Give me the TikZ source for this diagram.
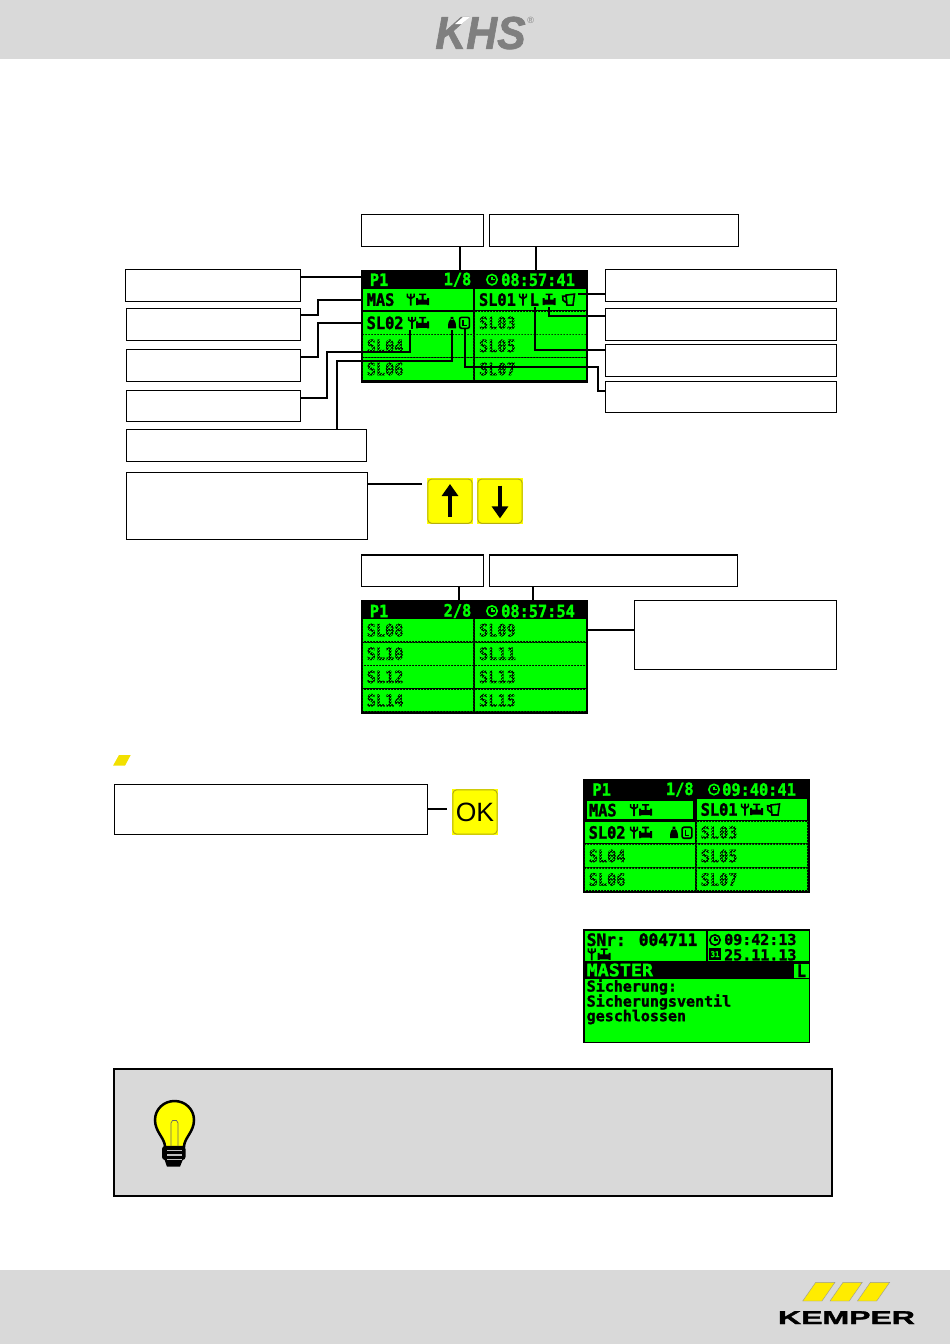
\documentclass[tikz,border=0pt]{standalone}
\usepackage{fontspec}
\usepackage{tikz}
\usetikzlibrary{arrows.meta, patterns}
\newfontfamily\lcdfont{DejaVu Sans Mono}[FakeStretch=0.9, BoldFeatures={FakeBold=1.6, FakeStretch=0.9}]
\newfontfamily\lcdsmall{DejaVu Sans Mono}[BoldFeatures={FakeBold=1.6}]
\newfontfamily\logofont{Liberation Sans}[BoldFeatures={FakeBold=1.5}, BoldItalicFeatures={FakeBold=1.5}]
\definecolor{lcdgreen}{HTML}{00FF00}
\definecolor{bandgray}{HTML}{D9D9D9}
\definecolor{logogray}{HTML}{7F7F7F}
\definecolor{btnyellow}{HTML}{FFFF00}
\definecolor{btnedge}{HTML}{B5AE10}
\definecolor{kmpyellow}{HTML}{FFEC00}
\pgfdeclarepatternformonly{lcdmask}{\pgfqpoint{0pt}{0pt}}{\pgfqpoint{3pt}{3pt}}{\pgfqpoint{3pt}{3pt}}{
  \pgfpathrectangle{\pgfpointorigin}{\pgfqpoint{1.5pt}{1.5pt}}
  \pgfpathrectangle{\pgfqpoint{1.5pt}{1.5pt}}{\pgfqpoint{1.5pt}{1.5pt}}
  \pgfusepath{fill}}
\tikzstyle{lblbox} = [rectangle, draw=black, line width=1.1pt, fill=white, inner sep=0pt, minimum height=32pt]
\tikzstyle{screen} = [rectangle, fill=black, inner sep=0pt]
\tikzstyle{cell} = [rectangle, fill=lcdgreen, inner ysep=0pt, inner xsep=4pt, text width=102.6pt, align=left, font=\lcdfont\bfseries\fontsize{17}{17}\selectfont]
\tikzstyle{lcdon} = [anchor=west, inner sep=0pt, text=lcdgreen, font=\lcdfont\bfseries\fontsize{17}{17}\selectfont]
\tikzstyle{lcdoff} = [anchor=west, inner sep=0pt, text=black, font=\lcdfont\bfseries\fontsize{17}{17}\selectfont]
\tikzstyle{lcdbody} = [anchor=west, inner sep=0pt, text=black, font=\lcdsmall\bfseries\fontsize{15}{15}\selectfont]
\tikzstyle{offmask} = [pattern=lcdmask, pattern color=lcdgreen]
\tikzstyle{btn} = [rectangle, fill=btnyellow, inner sep=0pt, minimum width=46pt, minimum height=46pt]
\tikzstyle{btnrim} = [draw=btnedge, line width=1pt, rounded corners=4pt]
\tikzstyle{wire} = [line width=2pt, line join=miter, black]
\tikzstyle{btnarrow} = [line width=4.5pt, black, -{Triangle[length=12pt, width=16pt]}]
\tikzstyle{band} = [fill=bandgray]
\tikzstyle{kmpbar} = [fill=kmpyellow, draw=black!40, line width=0.4pt]
\tikzset{
  ant/.pic={\draw [line width=1.6pt] (0.6,-6) -- (0.6,-3) -- (4,-1) -- (7.4,-3) -- (7.4,-6) (4,-6) -- (4,6);},
  valve/.pic={\fill (0,-1.5) rectangle (2,5.5) (11,-1.5) rectangle (13,5.5) (0,0) rectangle (13,5) (5.5,-5) rectangle (7.5,0) (3,-6) rectangle (10,-4.4);},
  bell/.pic={\fill (2.7,-6) rectangle (5.3,-3) (0,3) .. controls (0,-1) and (2,-4) .. (4,-4) .. controls (6,-4) and (8,-1) .. (8,3) -- cycle (0,3) rectangle (8,5.5);},
  timer/.pic={\draw [line width=1.6pt, rounded corners=2pt] (0.6,-5.5) rectangle (10.4,5.5);
    \draw [line width=1.1pt] (4,-3) -- (4,2.5) -- (7.5,2.5);},
  jug/.pic={\draw [line width=1.6pt] (4,-4.5) -- (12.5,-5.5) -- (11,5.5) -- (5,5.5) -- cycle (4,-3.5) -- (0.6,-3.5) -- (1,0.5) -- (4,3);},
  hdclock/.pic={\draw [lcdgreen, line width=1.6pt] (6,0) circle (5.2pt);
    \draw [lcdgreen, line width=1.3pt] (6,-3) -- (6,0) -- (9,0);}
}
\begin{document}
\begin{tikzpicture}[x=1pt,y=-1pt]
\useasboundingbox (0,0) rectangle (950,1344);
% head and foot
\fill [band] (0,0) rectangle (950,59);
\fill [band] (0,1270) rectangle (950,1344);
\node (logokhs) [inner sep=0pt, text=logogray] at (480.5,33) {\scalebox{0.93}[1]{\logofont\bfseries\itshape\fontsize{46}{46}\selectfont KHS}};
\fill [white] (455,24) -- (463,17) -- (470,17) -- (461.7,24) -- cycle;
\node (logoreg) [inner sep=0pt, text=logogray] at (530.7,20) {\logofont\fontsize{9}{9}\selectfont ®};
\foreach \dx in {0,27.3,54.7}
  \draw [kmpbar] (802.7+\dx,1301) -- (815.7+\dx,1282.3) -- (835+\dx,1282.3) -- (822+\dx,1301) -- cycle;
\node (logokmp) [inner sep=0pt] at (846.5,1317.6) {\scalebox{1.72}[1]{\logofont\bfseries\fontsize{18.6}{18.6}\selectfont KEMPER}};

% first page of the display
\node (scrA) [screen, minimum width=226.7pt, minimum height=112.4pt] at (474.3,326.5) {};
\foreach \row/\cy/\hgt/\txtl/\txtr in {1/299.65/21.3/MAS/SL01, 2/322.85/22.3/SL02/SL03, 3/345.85/22.3/SL04/SL05, 4/369/21.4/SL06/SL07} {
  \node (scrAl\row) [cell, minimum height=\hgt pt] at (418,\cy) {\txtl};
  \node (scrAr\row) [cell, minimum height=\hgt pt] at (530.3,\cy) {\txtr};
}
\foreach \nm in {scrAr2,scrAl3,scrAr3,scrAl4,scrAr4}
  \fill [offmask] (\nm.south west) rectangle (\nm.north east);
\node (hdAp) [lcdon] at (369.7,279.7) {P1};
\node (hdAn) [lcdon, anchor=east] at (471.5,279.7) {1/8};
\node (hdAt) [lcdon] at (501,279.7) {08:57:41};
\pic at (486,279.7) {hdclock};
\pic at (406.7,299.6) {ant};
\pic at (416,299.6) {valve};
\pic at (408,322.8) {ant};
\pic at (416,322.8) {valve};
\pic at (448,322.8) {bell};
\pic at (459,322.8) {timer};
\pic at (519,299.6) {ant};
\node (letL) [lcdoff] at (529.5,299.6) {L};
\pic at (542.5,299.6) {valve};
\pic at (562,299.6) {jug};

% second page of the display
\node (scrB) [screen, minimum width=226.7pt, minimum height=113.7pt] at (474.3,656.85) {};
\foreach \row/\cy/\hgt/\txtl/\txtr in {1/630.15/21.7/SL08/SL09, 2/653.7/22/SL10/SL11, 3/676.85/21.7/SL12/SL13, 4/700.35/21.3/SL14/SL15} {
  \node (scrBl\row) [cell, minimum height=\hgt pt] at (418,\cy) {\txtl};
  \node (scrBr\row) [cell, minimum height=\hgt pt] at (530.3,\cy) {\txtr};
  \fill [offmask] (scrBl\row.south west) rectangle (scrBl\row.north east);
  \fill [offmask] (scrBr\row.south west) rectangle (scrBr\row.north east);
}
\node (hdBp) [lcdon] at (369.7,611) {P1};
\node (hdBn) [lcdon, anchor=east] at (471.5,611) {2/8};
\node (hdBt) [lcdon] at (501,611) {08:57:54};
\pic at (486,611) {hdclock};

% overview with the master marked
\node (scrC) [screen, minimum width=227pt, minimum height=113.7pt] at (696.5,835.85) {};
\foreach \row/\cy/\hgt/\txtl/\txtr in {2/832.5/21/SL02/SL03, 3/856/22/SL04/SL05, 4/879.5/21/SL06/SL07} {
  \node (scrCl\row) [cell, minimum height=\hgt pt] at (640,\cy) {\txtl};
  \node (scrCr\row) [cell, minimum height=\hgt pt] at (752,\cy) {\txtr};
}
\node (scrCl1) [cell, inner xsep=1.7pt, minimum height=18.3pt] at (640.3,810.15) {MAS};
\node (scrCr1) [cell, minimum height=21pt] at (752,809.5) {SL01};
\foreach \nm in {scrCr2,scrCl3,scrCr3,scrCl4,scrCr4}
  \fill [offmask] (\nm.south west) rectangle (\nm.north east);
\node (hdCp) [lcdon] at (592.3,789.5) {P1};
\node (hdCn) [lcdon, anchor=east] at (693.8,789.5) {1/8};
\node (hdCt) [lcdon] at (722,789.5) {09:40:41};
\pic at (708,789.5) {hdclock};
\pic at (630,810) {ant};
\pic at (639,810) {valve};
\pic at (630,832.7) {ant};
\pic at (639,832.7) {valve};
\pic at (670,832.7) {bell};
\pic at (681.5,832.7) {timer};
\pic at (741,809.5) {ant};
\pic at (750,809.5) {valve};
\pic at (767,809.5) {jug};

% detail of the master
\node (scrD) [screen, minimum width=227pt, minimum height=113.7pt] at (696.5,986.15) {};
\node (cellNo) [rectangle, fill=lcdgreen, inner sep=0pt, minimum width=121pt, minimum height=30pt] at (645.5,946.3) {};
\node (cellTm) [rectangle, fill=lcdgreen, inner sep=0pt, minimum width=101pt, minimum height=30pt] at (758.5,946.3) {};
\node (cellTx) [rectangle, fill=lcdgreen, inner sep=0pt, minimum width=224pt, minimum height=62.4pt] at (697,1010.5) {};
\node (cellLt) [rectangle, fill=lcdgreen, inner sep=0pt, minimum width=15pt, minimum height=14.3pt, text=black, font=\lcdfont\bfseries\fontsize{17}{17}\selectfont] at (801.5,970.8) {L};
\node (txNo) [lcdoff] at (586.5,939.7) {\scalebox{1.06}[1]{SNr: 004711}};
\pic at (587.7,954.3) {ant};
\pic at (597.7,954.3) {valve};
\node (txTm) [lcdbody] at (724,939.5) {09:42:13};
\node (txDt) [lcdbody] at (724,954.8) {25.11.13};
\draw [line width=1.6pt] (715,940) circle (5.2pt);
\draw [line width=1.2pt] (715,937) -- (715,940) -- (718,940);
\node (cal) [rectangle, fill=black, inner sep=0pt, text=lcdgreen, minimum width=11.5pt, minimum height=11.7pt, font=\lcdfont\bfseries\fontsize{8}{8}\selectfont] at (715,954.2) {31};
\node (txMa) [lcdon] at (586.5,970) {\scalebox{1.2}[1]{MASTER}};
\node (txB1) [lcdbody] at (586.5,987) {Sicherung:};
\node (txB2) [lcdbody] at (586.5,1002) {Sicherungsventil};
\node (txB3) [lcdbody] at (586.5,1017) {geschlossen};

% keys
\node (keyUp) [btn] at (450,501.2) {};
\draw [btnrim] ([shift={(1pt,-1pt)}]keyUp.north west) rectangle ([shift={(-1pt,1pt)}]keyUp.south east);
\node (keyDn) [btn] at (500,501.2) {};
\draw [btnrim] ([shift={(1pt,-1pt)}]keyDn.north west) rectangle ([shift={(-1pt,1pt)}]keyDn.south east);
\draw [btnarrow] ([yshift=7.5pt]keyUp.south) -- ([yshift=-6pt]keyUp.north);
\draw [btnarrow] ([yshift=-7.5pt]keyDn.north) -- ([yshift=6pt]keyDn.south);
\node (keyOk) [btn, font=\logofont\fontsize{26.5}{26.5}\selectfont] at (475,812) {OK};
\draw [btnrim] ([shift={(1pt,-1pt)}]keyOk.north west) rectangle ([shift={(-1pt,1pt)}]keyOk.south east);

% label boxes
\node (boxA) [lblbox, minimum width=122.4pt] at (422.5,230.3) {};
\node (boxB) [lblbox, minimum width=249pt] at (613.8,230.3) {};
\node (boxL1) [lblbox, minimum width=175.4pt] at (213,285.3) {};
\node (boxL2) [lblbox, minimum width=174.4pt] at (213.5,324.3) {};
\node (boxL3) [lblbox, minimum width=174.4pt] at (213.5,365.3) {};
\node (boxL4) [lblbox, minimum width=174.4pt, minimum height=31pt] at (213.5,405.8) {};
\node (boxL5) [lblbox, minimum width=240.4pt] at (246.5,445.3) {};
\node (boxL6) [lblbox, minimum width=241pt, minimum height=67pt] at (246.8,505.8) {};
\node (boxR1) [lblbox, minimum width=231pt] at (720.8,285.3) {};
\node (boxR2) [lblbox, minimum width=231pt] at (720.8,324.3) {};
\node (boxR3) [lblbox, minimum width=231pt] at (720.8,360.3) {};
\node (boxR4) [lblbox, minimum width=231pt, minimum height=31pt] at (720.8,396.8) {};
\node (boxA2) [lblbox, minimum width=122.4pt, minimum height=31.7pt] at (422.5,570.8) {};
\node (boxB2) [lblbox, minimum width=248.4pt, minimum height=31.7pt] at (613.5,570.8) {};
\node (boxC) [lblbox, minimum width=202pt, minimum height=69pt] at (735.3,634.8) {};
\node (boxOk) [lblbox, minimum width=313.4pt, minimum height=50pt] at (271,809.3) {};

% ends and bends of the leader lines
\coordinate (tipAnt) at (410,330.3);
\coordinate (tipBell) at (452.3,330);
\coordinate (tipTimer) at (464.7,328.5);
\coordinate (tipLetter) at (535,306.7);
\coordinate (tipValve) at (549.3,306.7);
\coordinate (tipJug) at (577.7,293.7);
\coordinate (bendAnt) at (326.7,351.7);
\coordinate (bendBell) at (337,360.7);
\coordinate (bendTimer) at (597.7,366.7);

% leader lines
\draw [wire] ([xshift=37.5pt]boxA.south) -- ([xshift=37.5pt]boxA.south |- scrA.north);
\draw [wire] ([xshift=-77.8pt]boxB.south) -- ([xshift=-77.8pt]boxB.south |- scrA.north);
\draw [wire] ([yshift=8.6pt]boxL1.east) -- ([yshift=8.6pt]boxL1.east -| scrA.west);
\draw [wire] ([yshift=9.6pt]boxL2.east) -| ([xshift=-44.7pt]scrAl1.west) -- (scrAl1.west);
\draw [wire] ([yshift=8.3pt]boxL3.east) -| ([xshift=-44.7pt]scrAl2.west) -- (scrAl2.west);
\draw [wire] ([yshift=8.1pt]boxL4.east) -| (bendAnt) -| (tipAnt);
\draw [wire] ([xshift=90.5pt]boxL5.north) -- (bendBell) -| (tipBell);
\draw [wire] ([yshift=5.8pt]boxR4.west) -| (bendTimer) -| (tipTimer);
\draw [wire] ([yshift=10.6pt]boxR3.west) -| (tipLetter);
\draw [wire] ([yshift=8.3pt]boxR2.west) -| (tipValve);
\draw [wire] ([yshift=-8.4pt]boxR1.west) -- (tipJug);
\draw [wire] ([yshift=22.1pt]boxL6.east) -- ([xshift=-5.3pt,yshift=22.1pt]boxL6.east -| keyUp.west);
\draw [wire] ([xshift=36.5pt]boxA2.south) -- ([xshift=36.5pt]boxA2.south |- scrB.north);
\draw [wire] ([xshift=-80.5pt]boxB2.south) -- ([xshift=-80.5pt]boxB2.south |- scrB.north);
\draw [wire] ([yshift=4.8pt]boxC.west) -- ([yshift=4.8pt]boxC.west -| scrB.east);
\draw [wire] (boxOk.east) -- ([xshift=-4.5pt]boxOk.east -| keyOk.west);

% marker bar
\fill [fill=kmpyellow!95!black] (113,765.7) -- (119,755) -- (130.7,755) -- (125,765.7) -- cycle;

% hint box
\node (hintbox) [rectangle, draw=black, line width=2pt, fill=bandgray, inner sep=0pt, minimum width=718pt, minimum height=127pt] at (473,1132.5) {};
\fill [black, rounded corners=3pt] (162,1146) rectangle (185.5,1160);
\fill [black] (164,1158) -- (183.5,1158) -- (180,1166.7) -- (167,1166.7) -- cycle;
\draw [black, line width=2.5pt, fill=btnyellow] (165,1147) .. controls (165,1138) and (155,1132) .. (155,1120) .. controls (155,1109) and (164,1101) .. (174.5,1101) .. controls (185,1101) and (194,1109) .. (194,1120) .. controls (194,1132) and (184,1138) .. (184,1147) -- cycle;
\draw [black!60, line width=0.7pt] (171,1146) -- (171,1123) -- (172.5,1120.5) -- (176.5,1120.5) -- (178,1123) -- (178,1146);
\foreach \sy in {1150.5,1155,1159.5}
  \draw [black!25, line width=1.3pt] (167,\sy) -- (182,\sy);
\end{tikzpicture}
\end{document}
